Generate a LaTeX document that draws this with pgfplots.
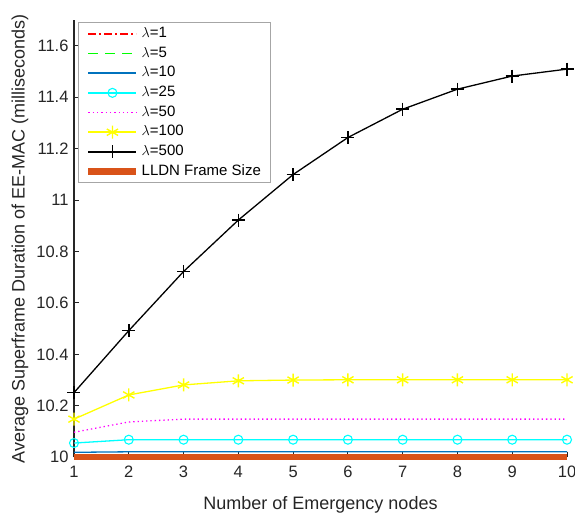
\documentclass[border=0pt]{standalone}
\usepackage{pgfplots}
\pgfplotsset{compat=1.18}
\usepackage{fontspec}
\setmainfont{Liberation Sans}

\definecolor{mred}{rgb}{1,0,0}
\definecolor{mgreen}{rgb}{0,1,0}
\definecolor{mblue}{rgb}{0,0.447,0.741}
\definecolor{mcyan}{rgb}{0,1,1}
\definecolor{mmagenta}{rgb}{1,0,1}
\definecolor{myellow}{rgb}{1,1,0}
\definecolor{morange}{rgb}{0.85,0.325,0.098}
\definecolor{axgray}{rgb}{0.15,0.15,0.15}

\begin{document}
\begin{tikzpicture}
\useasboundingbox (0,0) rectangle (575pt,518pt);
\begin{axis}[
    at={(74pt,60.8pt)}, anchor=south west,
    scale only axis,
    width=493pt, height=437.2pt,
    xmin=1, xmax=10, ymin=10, ymax=11.7,
    axis lines*=left,
    axis line style={axgray, line width=1.3pt},
    tick align=inside,
    major tick length=5pt,
    tick style={axgray, line width=0.8pt},
    xtick={1,2,...,10},
    ytick={10,10.2,10.4,10.6,10.8,11,11.2,11.4,11.6},
    /pgf/number format/assume math mode=true,
    tick label style={color=axgray, font=\fontsize{16.5}{19}\selectfont},
    xticklabel style={yshift=-5pt},
    yticklabel style={xshift=-2pt},
    label style={color=axgray, font=\fontsize{18}{21}\selectfont},
    xlabel={Number of Emergency nodes},
    ylabel={Average Superframe Duration of EE-MAC (milliseconds)},
    xlabel style={at={(axis description cs:0.5,-0.109)}, anchor=center},
    ylabel style={at={(axis description cs:-0.1095,0.5)}, anchor=center},
    clip=false,
    legend cell align=left,
    legend style={name=leg, at={(axis description cs:0,1)}, anchor=north west,
        xshift=4pt, yshift=-2.7pt,
        draw=none, fill=white,
        font=\fontsize{15}{18}\selectfont,
        row sep=0pt, inner xsep=7pt, inner ysep=1pt,
        nodes={inner sep=2pt, text height=11.5pt, text depth=4.2pt}},
    legend image code/.code={
        \draw[mark repeat=2, mark phase=2, #1]
            plot coordinates {(0pt,0pt) (24pt,0pt) (48pt,0pt)};},
]
\addplot[mred, line width=1.1pt, dash pattern=on 8pt off 3pt on 2pt off 3pt,
    legend image post style={draw=mred, line width=1.7pt}]
    coordinates {(1,10.004) (2,10.004) (3,10.004) (4,10.004) (5,10.004)
                 (6,10.004) (7,10.004) (8,10.004) (9,10.004) (10,10.004)};
\addplot[mgreen, line width=1.1pt, dash pattern=on 10pt off 7pt,
    legend image post style={draw=mgreen, line width=1.7pt}]
    coordinates {(1,10.01) (2,10.01) (3,10.01) (4,10.01) (5,10.01)
                 (6,10.01) (7,10.01) (8,10.01) (9,10.01) (10,10.01)};
\addplot[mblue, line width=1.3pt, legend image post style={draw=mblue, line width=2pt}]
    coordinates {(1,10.019) (2,10.021) (3,10.021) (4,10.021) (5,10.021)
                 (6,10.021) (7,10.021) (8,10.021) (9,10.021) (10,10.021)};
\addplot[mcyan, line width=1.3pt, mark=o, mark size=4.5pt, mark options={line width=1.1pt},
    legend image post style={draw=mcyan, line width=2pt}]
    coordinates {(1,10.055) (2,10.068) (3,10.068) (4,10.068) (5,10.068)
                 (6,10.068) (7,10.068) (8,10.068) (9,10.068) (10,10.068)};
\addplot[mmagenta, line width=1.3pt, dash pattern=on 1.3pt off 3pt,
    legend image post style={draw=mmagenta}]
    coordinates {(1,10.097) (2,10.137) (3,10.148) (4,10.148) (5,10.148)
                 (6,10.148) (7,10.148) (8,10.148) (9,10.148) (10,10.148)};
\addplot[myellow, line width=1.3pt, mark=asterisk, mark size=6.5pt, mark options={line width=1.4pt},
    legend image post style={draw=myellow, line width=2pt}]
    coordinates {(1,10.148) (2,10.242) (3,10.281) (4,10.297) (5,10.300)
                 (6,10.301) (7,10.301) (8,10.301) (9,10.301) (10,10.301)};
\addplot[black, line width=1.3pt, mark=+, mark size=6.5pt, mark options={line width=1.6pt},
    legend image post style={draw=black, line width=2pt}]
    coordinates {(1,10.251) (2,10.492) (3,10.722) (4,10.922) (5,11.099)
                 (6,11.243) (7,11.353) (8,11.431) (9,11.482) (10,11.509)};
\addplot[morange, line width=6.5pt, legend image post style={draw=morange}]
    coordinates {(1,10) (2,10) (3,10) (4,10) (5,10)
                 (6,10) (7,10) (8,10) (9,10) (10,10)};
\legend{$\lambda$=1, $\lambda$=5, $\lambda$=10, $\lambda$=25, $\lambda$=50,
        $\lambda$=100, $\lambda$=500, LLDN Frame Size}
\end{axis}
\draw[gray!70, line width=0.8pt] (leg.south west) rectangle (leg.north east);
\end{tikzpicture}
\end{document}
